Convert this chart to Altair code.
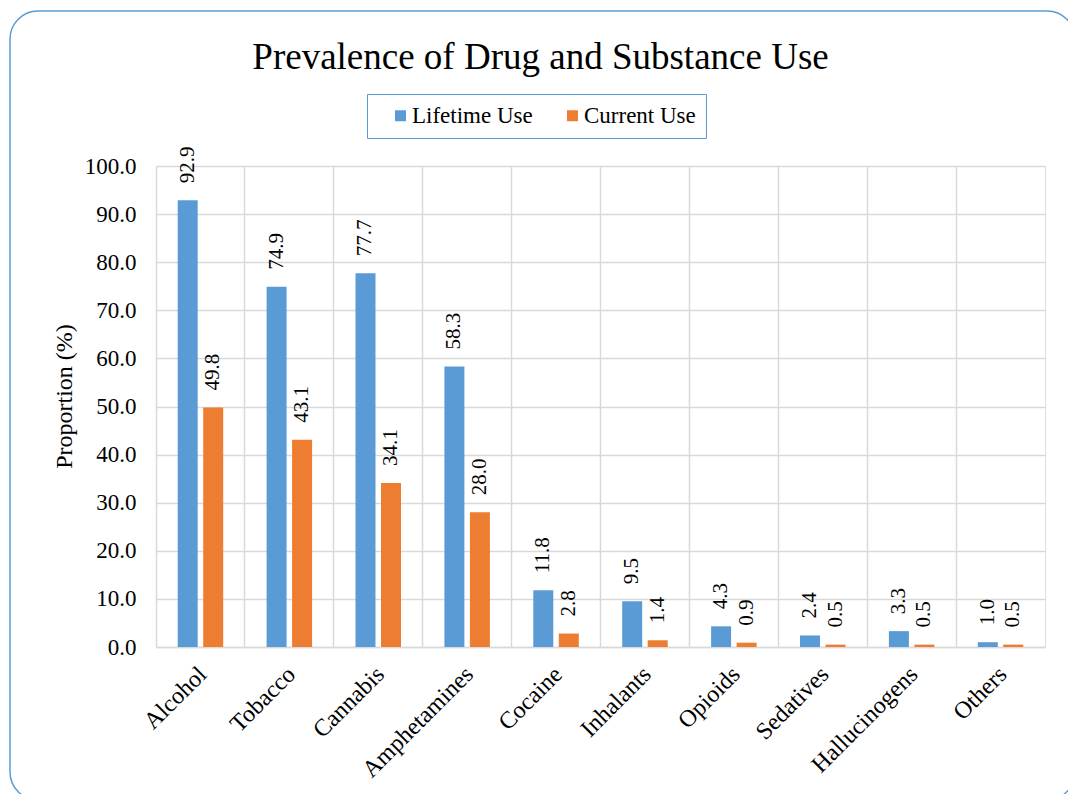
import altair as alt
import pandas as pd

categories = ["Alcohol", "Tobacco", "Cannabis", "Amphetamines", "Cocaine",
              "Inhalants", "Opioids", "Sedatives", "Hallucinogens", "Others"]
series = ["Lifetime Use", "Current Use"]
lifetime_use = [92.9, 74.9, 77.7, 58.3, 11.8, 9.5, 4.3, 2.4, 3.3, 1.0]
current_use = [49.8, 43.1, 34.1, 28.0, 2.8, 1.4, 0.9, 0.5, 0.5, 0.5]
colors = ["#5B9BD5", "#ED7D31"]
y_ticks = [0, 10, 20, 30, 40, 50, 60, 70, 80, 90, 100]

rows = []
for c, a, b in zip(categories, lifetime_use, current_use):
    rows.append({"Substance": c, "Series": series[0], "Value": a})
    rows.append({"Substance": c, "Series": series[1], "Value": b})
df = pd.DataFrame(rows)

FONT = "Liberation Serif"
GRID = "#D9D9D9"

x_enc = alt.X("Substance:N", sort=categories,
              scale=alt.Scale(paddingInner=0, paddingOuter=0),
              axis=alt.Axis(title=None, labelAngle=-45, labelFontSize=24,
                            labelColor="black", labelPadding=15, labelOffset=-6,
                            ticks=False,
                            grid=True, bandPosition=0, gridColor=GRID,
                            gridWidth=1.5, domainColor=GRID, domainWidth=1.5,
                            labelFont=FONT))
xoff_enc = alt.XOffset("Series:N", sort=series,
                       scale=alt.Scale(paddingInner=0.216, paddingOuter=0.851))
y_enc = alt.Y("Value:Q", scale=alt.Scale(domain=[0, 100], nice=False),
              axis=alt.Axis(title="Proportion (%)", values=y_ticks, format=".1f",
                            labelFontSize=23, labelColor="black", labelPadding=20,
                            ticks=False, domain=False, gridColor=GRID, gridWidth=1.5,
                            titleFontSize=24, titleFontWeight="normal",
                            titleColor="black", titlePadding=8, titleY=230,
                            labelFont=FONT, titleFont=FONT))

bars = alt.Chart(df).mark_bar().encode(
    x=x_enc,
    xOffset=xoff_enc,
    y=y_enc,
    color=alt.Color("Series:N", sort=series,
                    scale=alt.Scale(domain=series, range=colors),
                    legend=alt.Legend(title=None, orient="none", legendX=211,
                                      legendY=-72, direction="horizontal",
                                      strokeColor="#5B9BD5",
                                      padding=10, symbolOffset=12,
                                      columnPadding=16, labelOffset=0,
                                      symbolType="square", symbolSize=121,
                                      symbolStrokeWidth=0, labelFontSize=23,
                                      labelColor="black", labelFont=FONT)),
)

labels = alt.Chart(df).mark_text(angle=270, align="left", baseline="middle",
                                 dx=17, fontSize=21, font=FONT,
                                 color="black").encode(
    x=alt.X("Substance:N", sort=categories),
    xOffset=alt.XOffset("Series:N", sort=series),
    y=alt.Y("Value:Q"),
    text=alt.Text("Value:Q", format=".1f"),
)

border = alt.Chart(alt.Data(values=[{}])).mark_rect(
    fill="transparent", stroke="#5B9BD5", strokeWidth=1.5, cornerRadius=28
).encode(
    x=alt.value(-146), x2=alt.value(919),
    y=alt.value(-155), y2=alt.value(634),
)

chart = alt.layer(border, bars, labels).properties(
    width=889,
    height=481,
    autosize=alt.AutoSizeParams(type="none"),
    padding={"left": 156, "top": 166, "right": 23, "bottom": 147},
    title=alt.TitleParams(text="Prevalence of Drug and Substance Use",
                          fontSize=37, font=FONT, fontWeight="normal",
                          color="black", frame="bounds", anchor="middle",
                          baseline="alphabetic", offset=-96, dx=-2),
).configure_view(stroke=GRID, strokeWidth=1.5).configure(
    font=FONT, background="white")

chart.save("out.html", embed_options={"renderer": "svg", "actions": False})
